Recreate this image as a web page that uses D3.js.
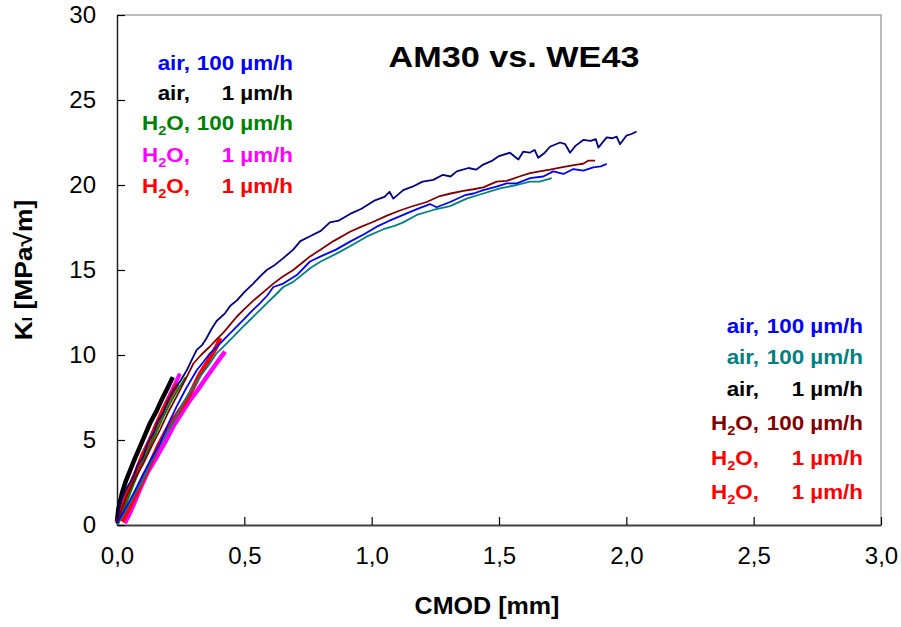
<!DOCTYPE html>
<html>
<head>
<meta charset="utf-8">
<script src="https://cdn.jsdelivr.net/npm/d3@7"></script>
<style>
  html, body { margin: 0; padding: 0; background: #fff; }
  svg { display: block; font-family: "Liberation Sans", Arial, sans-serif; }
</style>
</head>
<body>
<div id="chart"></div>
<script>
// CMOD [mm] vs. K_I [MPa sqrt(m)]
const xTicks = [0, 0.5, 1.0, 1.5, 2.0, 2.5, 3.0];
const yTicks = [0, 5, 10, 15, 20, 25, 30];

// short tests (thick markers)
const airSlowBlack = [
  [0, 0.2], [0.005, 0.9], [0.02, 1.9], [0.035, 2.6], [0.051, 3.2], [0.07, 3.9],
  [0.09, 4.6], [0.11, 5.3], [0.13, 6.0], [0.155, 6.7], [0.175, 7.35],
  [0.2, 8.1], [0.219, 8.7]
];
const h2oSlowRedA = [
  [0, 0.1], [0.012, 0.5], [0.04, 1.9], [0.077, 3.2], [0.1, 4.1], [0.13, 5.0],
  [0.155, 5.9], [0.182, 6.8], [0.21, 7.6], [0.237, 8.3]
];
const h2oSlowRedB = [
  [0.02, 0.2], [0.045, 0.9], [0.071, 1.7], [0.1, 2.6], [0.13, 3.6], [0.16, 4.6],
  [0.195, 5.6], [0.235, 6.5], [0.274, 7.35], [0.3, 8.1], [0.326, 8.9],
  [0.36, 9.7], [0.391, 10.5], [0.405, 11.0]
];
const h2oSlowMagentaA = [
  [0.01, 0.3], [0.025, 1.1], [0.05, 2.2], [0.08, 3.3], [0.11, 4.4], [0.14, 5.4],
  [0.17, 6.4], [0.2, 7.4], [0.225, 8.2], [0.247, 8.9]
];
const h2oSlowMagentaB = [
  [0.03, 0.1], [0.044, 0.5], [0.065, 1.2], [0.09, 2.1], [0.12, 3.1], [0.156, 4.0],
  [0.19, 4.9], [0.221, 5.8], [0.255, 6.6], [0.287, 7.35], [0.32, 8.0],
  [0.352, 8.7], [0.39, 9.5], [0.424, 10.2]
];
const h2oFastGreen = [
  [0.01, 0.3], [0.035, 1.2], [0.06, 2.2], [0.09, 3.3], [0.12, 4.3],
  [0.15, 5.3], [0.18, 6.3], [0.21, 7.2], [0.24, 8.0], [0.27, 8.7]
];

// long tests (thin lines)
const airFastNavy = [
  [0, 0.1], [0.012, 1.3], [0.035, 2.1], [0.064, 2.8], [0.08, 3.5], [0.103, 4.0],
  [0.12, 4.8], [0.143, 5.4], [0.16, 6.1], [0.182, 6.6], [0.2, 7.3], [0.221, 7.9],
  [0.25, 8.5], [0.274, 9.1], [0.293, 9.7], [0.313, 10.3], [0.335, 10.6],
  [0.352, 11.0], [0.37, 11.5], [0.391, 12.0], [0.424, 12.45], [0.445, 12.9],
  [0.47, 13.2], [0.5, 13.7], [0.535, 14.2], [0.56, 14.6], [0.588, 15.0],
  [0.62, 15.3], [0.653, 15.7], [0.692, 16.2], [0.72, 16.7], [0.76, 17.0],
  [0.8, 17.3], [0.836, 17.8], [0.87, 17.9], [0.915, 18.3], [0.96, 18.6],
  [1.013, 19.1], [1.05, 19.3], [1.07, 19.6], [1.085, 19.2], [1.124, 19.7],
  [1.16, 19.9], [1.2, 20.2], [1.242, 20.3], [1.28, 20.6], [1.31, 20.5],
  [1.334, 20.8], [1.38, 21.0], [1.41, 20.9], [1.438, 21.2], [1.47, 21.4],
  [1.5, 21.7], [1.543, 21.9], [1.576, 21.5], [1.595, 21.96], [1.62, 21.9],
  [1.64, 22.06], [1.654, 21.6], [1.68, 21.9], [1.70, 22.25], [1.74, 22.5],
  [1.76, 22.4], [1.779, 21.9], [1.8, 22.3], [1.831, 22.65], [1.86, 22.6],
  [1.88, 22.7], [1.89, 22.2], [1.923, 22.8], [1.945, 22.75], [1.962, 22.84],
  [1.975, 22.4], [2.0, 22.9], [2.02, 23.0], [2.04, 23.15]
];
const h2oFastDarkRed = [
  [0, 0.1], [0.015, 0.8], [0.038, 1.7], [0.07, 2.7], [0.103, 3.6], [0.135, 4.6],
  [0.169, 5.6], [0.2, 6.6], [0.234, 7.55], [0.27, 8.6], [0.3, 9.5],
  [0.33, 10.0], [0.365, 10.5], [0.39, 10.9], [0.417, 11.3], [0.445, 11.8],
  [0.47, 12.25], [0.5, 12.7], [0.535, 13.2], [0.575, 13.7], [0.614, 14.2],
  [0.65, 14.6], [0.692, 15.0], [0.725, 15.4], [0.758, 15.8], [0.8, 16.2],
  [0.85, 16.7], [0.915, 17.25], [0.96, 17.55], [1.007, 17.84], [1.06, 18.2],
  [1.111, 18.5], [1.16, 18.75], [1.216, 19.0], [1.268, 19.35], [1.31, 19.5],
  [1.36, 19.65], [1.4, 19.75], [1.438, 19.86], [1.491, 20.2], [1.53, 20.24],
  [1.58, 20.5], [1.622, 20.7], [1.66, 20.8], [1.70, 20.9], [1.75, 21.05],
  [1.805, 21.2], [1.83, 21.25], [1.85, 21.43], [1.877, 21.43]
];
const airFastBlue = [
  [0, 0.1], [0.015, 0.5], [0.038, 1.1], [0.07, 2.0], [0.103, 3.0], [0.135, 3.9],
  [0.169, 4.8], [0.2, 5.9], [0.234, 6.96], [0.27, 8.0], [0.313, 9.1],
  [0.34, 9.6], [0.365, 10.1], [0.4, 10.6], [0.431, 11.08], [0.465, 11.6],
  [0.496, 12.06], [0.53, 12.6], [0.561, 13.04], [0.59, 13.5], [0.614, 14.0],
  [0.653, 14.2], [0.706, 14.7], [0.758, 15.5], [0.8, 15.8], [0.86, 16.2],
  [0.915, 16.67], [0.97, 17.1], [1.02, 17.55], [1.07, 17.9], [1.124, 18.24],
  [1.18, 18.6], [1.229, 18.88], [1.255, 18.69], [1.308, 19.0], [1.366, 19.4],
  [1.4, 19.5], [1.438, 19.7], [1.49, 19.9], [1.53, 20.1], [1.57, 20.1],
  [1.622, 20.4], [1.674, 20.5], [1.713, 20.8], [1.753, 20.65], [1.792, 20.94],
  [1.831, 20.84], [1.87, 21.04], [1.9, 21.1], [1.923, 21.24]
];
const airFastTeal = [
  [0, 0], [0.02, 0.5], [0.04, 1.0], [0.064, 1.67], [0.1, 2.6], [0.13, 3.6],
  [0.16, 4.5], [0.195, 5.4], [0.23, 6.3], [0.26, 7.2], [0.295, 8.0],
  [0.326, 8.72], [0.36, 9.4], [0.391, 10.1], [0.425, 10.6], [0.457, 11.08],
  [0.49, 11.6], [0.522, 12.06], [0.555, 12.55], [0.588, 13.04], [0.62, 13.5],
  [0.653, 14.0], [0.692, 14.3], [0.725, 14.7], [0.758, 15.1], [0.8, 15.5],
  [0.86, 15.95], [0.915, 16.4], [0.98, 16.96], [1.046, 17.4], [1.09, 17.6],
  [1.124, 17.8], [1.177, 18.24], [1.242, 18.53], [1.308, 18.76], [1.373, 19.2],
  [1.438, 19.5], [1.504, 19.8], [1.57, 20.0], [1.622, 20.2], [1.66, 20.2],
  [1.707, 20.4]
];

// legends: left column text, right column text, colour
const legendLeftNames = ["air,", "air,", "H2O,", "H2O,", "H2O,"];
const legendLeftRates = ["100 µm/h", "1 µm/h", "100 µm/h", "1 µm/h", "1 µm/h"];
const legendLeftColors = ["#0000ff", "#000000", "#008000", "#ff00ff", "#ff0000"];
const legendRightNames = ["air,", "air,", "air,", "H2O,", "H2O,", "H2O,"];
const legendRightRates = ["100 µm/h", "100 µm/h", "1 µm/h", "100 µm/h", "1 µm/h", "1 µm/h"];
const legendRightColors = ["#0000ff", "#008080", "#000000", "#800000", "#ff0000", "#ff0000"];

const title = "AM30 vs. WE43";

const dimensions = { x: 901, y: 627 };
const plot = { left: 117, right: 881, top: 15, bottom: 525 };

const svg = d3.select("#chart").append("svg")
  .attr("width", dimensions.x)
  .attr("height", dimensions.y)
  .attr("viewBox", `0 0 ${dimensions.x} ${dimensions.y}`);

const scaleX = d3.scaleLinear().domain([0, 3]).range([plot.left, plot.right]);
const scaleY = d3.scaleLinear().domain([0, 30]).range([plot.bottom, plot.top]);

const fmt = (d) => d3.format(".1f")(d).replace(".", ",");

// plot frame (grey top and right)
svg.append("path")
  .attr("d", `M${plot.left},${plot.top}H${plot.right}V${plot.bottom}`)
  .attr("fill", "none")
  .attr("stroke", "#a6a6a6")
  .attr("stroke-width", 1.5);

// axes
const axisX = d3.axisBottom(scaleX).tickValues(xTicks).tickFormat(fmt)
  .tickSizeInner(-8).tickSizeOuter(0).tickPadding(22);
const axisY = d3.axisLeft(scaleY).tickValues(yTicks)
  .tickSizeInner(-8).tickSizeOuter(0).tickPadding(21);

const gx = svg.append("g").attr("transform", `translate(0, ${plot.bottom})`).call(axisX);
const gy = svg.append("g").attr("transform", `translate(${plot.left}, 0)`).call(axisY);

gx.select(".domain").attr("stroke", "#404040").attr("stroke-width", 2);
gy.select(".domain").attr("stroke", "#202020").attr("stroke-width", 1.5);
gx.selectAll(".tick line").attr("stroke", "#000").attr("stroke-width", 1.2);
gy.selectAll(".tick line").attr("stroke", "#000").attr("stroke-width", 1.2);
gx.selectAll(".tick text").attr("font-size", 24).attr("fill", "#000")
  .attr("font-family", "Liberation Sans, Arial, sans-serif");
gy.selectAll(".tick text").attr("font-size", 24).attr("fill", "#000")
  .attr("font-family", "Liberation Sans, Arial, sans-serif");

// curves
const line = d3.line().x((d) => scaleX(d[0])).y((d) => scaleY(d[1]));
const curves = [
  { data: airSlowBlack, color: "#000000", width: 4.5 },
  { data: h2oSlowMagentaB, color: "#ff00ff", width: 4.5 },
  { data: h2oSlowRedB, color: "#ff0000", width: 4.5 },
  { data: h2oSlowMagentaA, color: "#ff00ff", width: 4 },
  { data: h2oSlowRedA, color: "#ff0000", width: 4.5 },
  { data: h2oFastGreen, color: "#008000", width: 2 },
  { data: airFastTeal, color: "#008080", width: 1.8 },
  { data: airFastBlue, color: "#0000ff", width: 1.8 },
  { data: h2oFastDarkRed, color: "#800000", width: 1.8 },
  { data: airFastNavy, color: "#000080", width: 1.8 },
];
svg.append("g").selectAll("path").data(curves).join("path")
  .attr("d", (d) => line(d.data))
  .attr("fill", "none")
  .attr("stroke", (d) => d.color)
  .attr("stroke-width", (d) => d.width)
  .attr("stroke-linejoin", "round");

// text drawn a bit wider than the font, like in the original picture
function wideText(parent, x, y, sx) {
  return parent.append("text")
    .attr("transform", `translate(${x}, ${y}) scale(${sx}, 1)`);
}

// legend helper: "H2O" gets a subscript 2
function writeName(text, name) {
  if (name.startsWith("H2O")) {
    text.append("tspan").text("H");
    text.append("tspan").attr("font-size", 13).attr("dy", 5).text("2");
    text.append("tspan").attr("dy", -5).text(name.slice(2));
  } else {
    text.text(name);
  }
}

function drawLegend(names, rates, colors, nameX, rateX, baselines) {
  const g = svg.append("g").attr("font-size", 20).attr("font-weight", "bold");
  names.forEach((name, i) => {
    const t = wideText(g, nameX, baselines[i], 1.12)
      .attr("text-anchor", "end").attr("fill", colors[i]);
    writeName(t, name);
    wideText(g, rateX, baselines[i], 1.12)
      .attr("text-anchor", "end").attr("fill", colors[i]).text(rates[i]);
  });
}

drawLegend(legendLeftNames, legendLeftRates, legendLeftColors, 190, 293,
  [70, 99.5, 130, 161.5, 193]);
drawLegend(legendRightNames, legendRightRates, legendRightColors, 759, 863,
  [333, 364, 396, 430, 465, 499]);

// title
wideText(svg, 514, 67, 1.14)
  .attr("text-anchor", "middle")
  .attr("font-size", 30).attr("font-weight", "bold")
  .text(title);

// axis titles
wideText(svg, 487, 614, 1.09)
  .attr("text-anchor", "middle")
  .attr("font-size", 23).attr("font-weight", "bold")
  .text("CMOD [mm]");

const yTitle = svg.append("text")
  .attr("transform", "translate(32, 270) rotate(-90) scale(1.1, 1)")
  .attr("text-anchor", "middle")
  .attr("font-size", 24).attr("font-weight", "bold");
yTitle.append("tspan").text("K");
yTitle.append("tspan").attr("font-size", 14).text("I");
yTitle.append("tspan").text(" [MPa√m]");
</script>
</body>
</html>
